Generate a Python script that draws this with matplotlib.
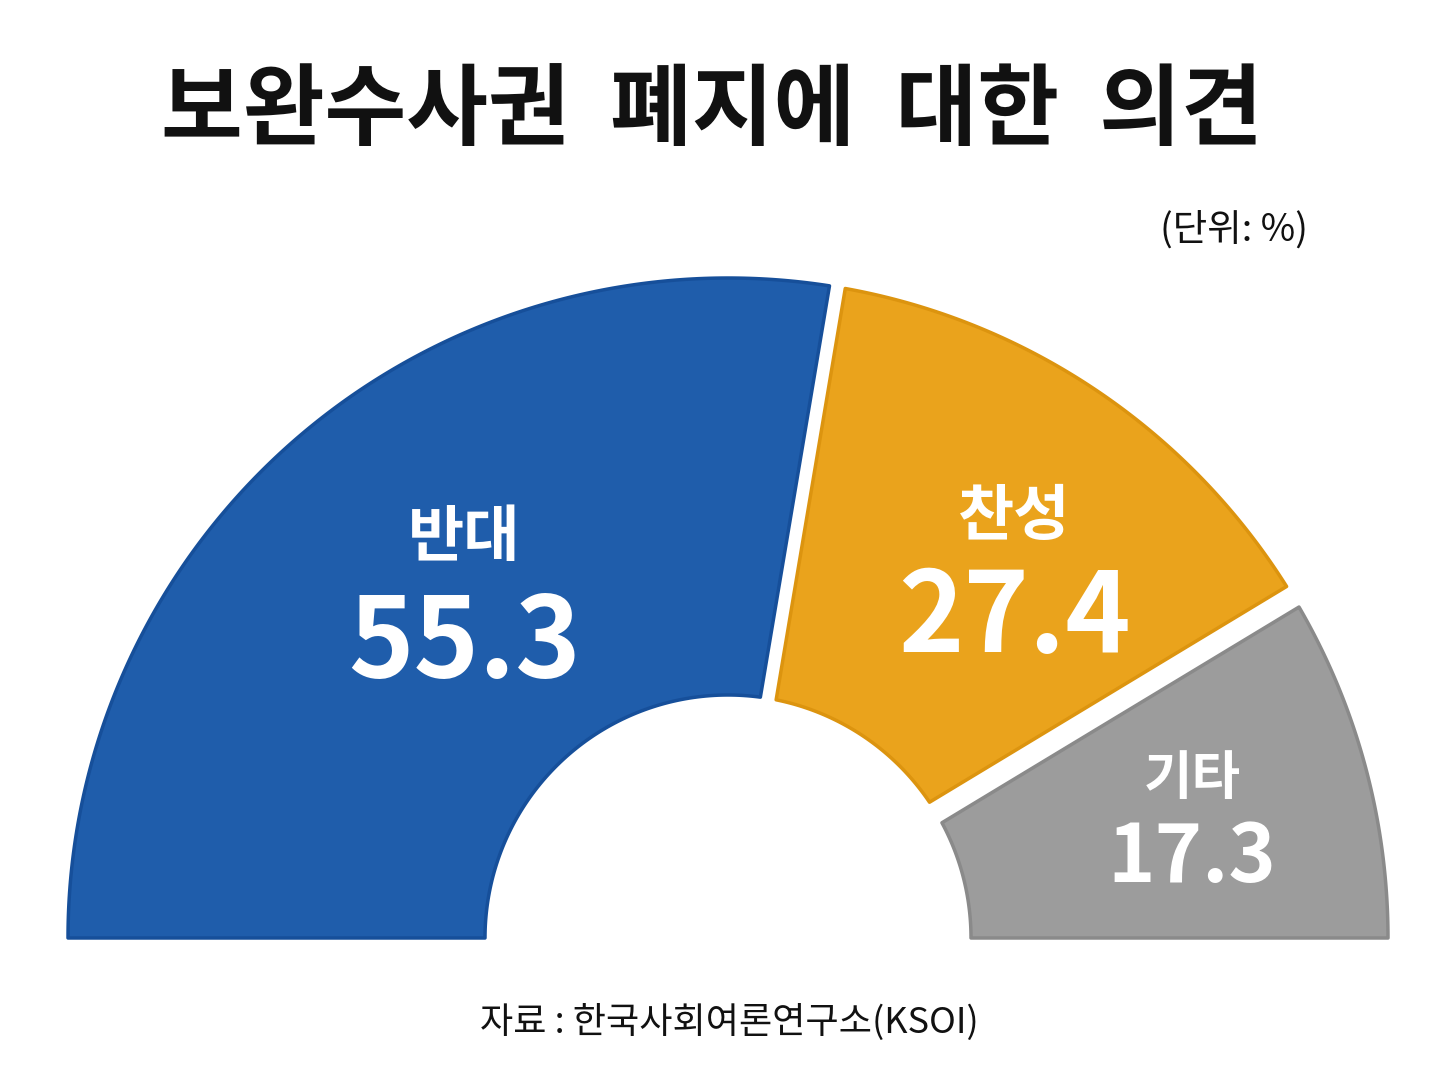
import numpy as np
import matplotlib
matplotlib.use('Agg')
import matplotlib.pyplot as plt
from matplotlib.patches import Polygon

# ---- data ----
categories = ['반대', '찬성', '기타']
values = [55.3, 27.4, 17.3]
value_labels = ['55.3', '27.4', '17.3']
title_text = '보완수사권  폐지에  대한  의견'
unit_text = '(단위: %)'
source_text = '자료 : 한국사회여론연구소(KSOI)'

# ---- style ----
colors = ['#1f5dab', '#eaa31c', '#9c9c9c']
edge_colors = ['#164f9a', '#dc940f', '#8a8a8a']
label_radius = [452, 470, 482]
label_dx = [28, 22, 0]
label_dy = [0, 20, 12]
name_size = [44, 44, 38]
value_size = [80, 80, 58]
name_dy = [-55, -52, -42]
value_dy = [52, 50, 38]
boundary_half_gaps = [8, 12]

plt.rcParams['font.family'] = ['Noto Sans CJK KR', 'DejaVu Sans']

fig = plt.figure(figsize=(14.48, 10.86), dpi=100)
ax = fig.add_axes([0, 0, 1, 1])
ax.set_xlim(0, 1448)
ax.set_ylim(1086, 0)
ax.axis('off')

cx, cy = 728, 938
R_out, R_in = 660, 243


def pt(r, a):
    a = np.radians(a)
    return cx + r * np.cos(a), cy - r * np.sin(a)


total = sum(values)
start = 180.0
n = len(values)
for i, v in enumerate(values):
    a1 = start
    a2 = start - v / total * 180.0
    start = a2
    g1 = 0 if i == 0 else boundary_half_gaps[i - 1]
    g2 = 0 if i == n - 1 else boundary_half_gaps[i]
    do1 = np.degrees(np.arcsin(g1 / R_out))
    di1 = np.degrees(np.arcsin(g1 / R_in))
    do2 = np.degrees(np.arcsin(g2 / R_out))
    di2 = np.degrees(np.arcsin(g2 / R_in))
    outer = np.linspace(a1 - do1, a2 + do2, 200)
    inner = np.linspace(a2 + di2, a1 - di1, 100)
    xs_o, ys_o = pt(R_out, outer)
    xs_i, ys_i = pt(R_in, inner)
    verts = np.column_stack([np.concatenate([xs_o, xs_i]),
                             np.concatenate([ys_o, ys_i])])
    ax.add_patch(Polygon(verts, closed=True, facecolor=colors[i],
                         edgecolor=edge_colors[i], linewidth=2.5,
                         joinstyle='round'))
    mid = (a1 + a2) / 2
    lx, ly = pt(label_radius[i], mid)
    lx += label_dx[i]
    ly += label_dy[i]
    ax.text(lx, ly + name_dy[i], categories[i], color='white',
            fontsize=name_size[i], fontweight='bold', ha='center', va='center')
    ax.text(lx, ly + value_dy[i], value_labels[i], color='white',
            fontsize=value_size[i], fontweight='bold', ha='center', va='center')

ax.text(712, 112, title_text, fontsize=64, fontweight='bold',
        ha='center', va='center', color='#111111')
ax.text(1308, 230, unit_text, fontsize=27, fontweight='medium',
        ha='right', va='center', color='#111111')
ax.text(729, 1022, source_text, fontsize=26, fontweight='medium',
        ha='center', va='center', color='#111111')

fig.savefig('out.png', dpi=100, facecolor='white')
